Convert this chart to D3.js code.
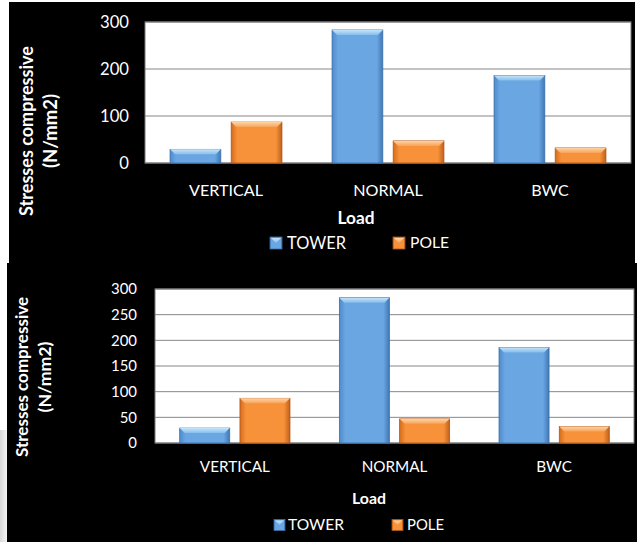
<!DOCTYPE html>
<html>
<head>
<meta charset="utf-8">
<script src="https://cdn.jsdelivr.net/npm/d3@7"></script>
<style>
  html, body { margin: 0; padding: 0; background: #ffffff; }
  svg { display: block; }
  text { font-family: Lato, "Open Sans", sans-serif; fill: #ffffff; }
</style>
</head>
<body>
<script>
// ---- data ----
const categories = ["VERTICAL", "NORMAL", "BWC"];
const seriesNames = ["TOWER", "POLE"];
const towerValues = [29, 283, 186];
const poleValues = [87, 47, 32];
const topTicks = [0, 100, 200, 300];
const bottomTicks = [0, 50, 100, 150, 200, 250, 300];
const yTitleLines = ["Stresses compressive", "(N/mm2)"];
const xTitle = "Load";

// ---- layout (pixels) ----
const W = 637, H = 542;
const charts = [
  { panel: [9, 2, 626, 261], plot: [145, 631, 22, 163], ticks: topTicks,
    tickRight: 129, tickW: 29, catY: 190, catW: 74,
    yt1: [27, 131, 170], yt2: [51, 131, 74], load: [356, 218, 37],
    leg: { y: 243, m1: 270, t1: 287, w1: 59, m2: 393, t2: 410, w2: 39, ms: 12 } },
  { panel: [7, 263, 630, 279], plot: [155, 634, 289, 443], ticks: bottomTicks,
    tickRight: 137, tickW: 26, catY: 467, catW: 70,
    yt1: [22, 377, 160], yt2: [45, 377, 71], load: [369, 498, 34],
    leg: { y: 525, m1: 274, t1: 288, w1: 56, m2: 392, t2: 407, w2: 37, ms: 11 } }
];

const svg = d3.select("body").append("svg").attr("width", W).attr("height", H);
const defs = svg.append("defs");

function hGrad(id, stops) {
  const g = defs.append("linearGradient").attr("id", id).attr("x1", 0).attr("x2", 1).attr("y1", 0).attr("y2", 0);
  stops.forEach(s => g.append("stop").attr("offset", s[0]).attr("stop-color", s[1]));
}
function vGrad(id, stops) {
  const g = defs.append("linearGradient").attr("id", id).attr("x1", 0).attr("x2", 0).attr("y1", 0).attr("y2", 1);
  stops.forEach(s => g.append("stop").attr("offset", s[0]).attr("stop-color", s[1]));
}
hGrad("blueFace", [[0, "#4f8bcb"], [0.12, "#6aa6e2"], [0.88, "#6aa6e2"], [1, "#3f78b8"]]);
vGrad("blueTop", [[0, "#c4e4fa"], [1, "#86bdec"]]);
hGrad("orFace", [[0, "#d56c1c"], [0.12, "#f7913a"], [0.88, "#f7913a"], [1, "#c0601a"]]);
vGrad("orTop", [[0, "#fdd3a6"], [1, "#f9a356"]]);
hGrad("leftFade", [[0, "#d8d8d8"], [1, "#f4f4f4"]]);

const styles = {
  TOWER: { face: "url(#blueFace)", top: "url(#blueTop)", stroke: "#3a6fa8" },
  POLE: { face: "url(#orFace)", top: "url(#orTop)", stroke: "#b0561a" }
};

// left grey fade near bottom-left
svg.append("rect").attr("x", 0).attr("y", 430).attr("width", 7).attr("height", 112).attr("fill", "url(#leftFade)");

function fitText(sel, target) {
  const base = 16;
  sel.attr("font-size", base);
  const len = sel.node().getComputedTextLength();
  const fs = len > 0 ? base * target / len : base;
  sel.attr("font-size", fs);
  return fs;
}

function drawBar(g, x, y, w, h, st) {
  const b = Math.min(5, h / 2);
  g.append("rect").attr("x", x).attr("y", y).attr("width", w).attr("height", h)
    .attr("fill", st.face).attr("stroke", st.stroke).attr("stroke-width", 0.8);
  g.append("path")
    .attr("d", `M${x},${y}L${x + w},${y}L${x + w - b},${y + b}L${x + b},${y + b}Z`)
    .attr("fill", st.top);
}

charts.forEach(c => {
  const [px, py, pw, ph] = c.panel;
  svg.append("rect").attr("x", px).attr("y", py).attr("width", pw).attr("height", ph).attr("fill", "#000");
  const [x0, x1, yTop, yZero] = c.plot;

  const x = d3.scaleBand().domain(categories).range([x0, x1]).paddingInner(0).paddingOuter(0);
  const xs = d3.scaleBand().domain(seriesNames).range([0, x.bandwidth()]).paddingInner(0.17).paddingOuter(0.41);
  const y = d3.scaleLinear().domain([0, 300]).range([yZero, yTop]);

  const g = svg.append("g");
  g.append("rect").attr("x", x0).attr("y", yTop).attr("width", x1 - x0).attr("height", yZero - yTop)
    .attr("fill", "#fff");
  // gridlines
  g.selectAll("line.grid").data(c.ticks).enter().append("line")
    .attr("x1", x0).attr("x2", x1).attr("y1", d => y(d)).attr("y2", d => y(d))
    .attr("stroke", "#878787").attr("stroke-width", 1);
  g.append("rect").attr("x", x0).attr("y", yTop).attr("width", x1 - x0).attr("height", yZero - yTop)
    .attr("fill", "none").attr("stroke", "#7a7a7a").attr("stroke-width", 1);

  // bars
  const rows = categories.map((cat, i) => ({ cat, TOWER: towerValues[i], POLE: poleValues[i] }));
  rows.forEach(r => {
    seriesNames.forEach(s => {
      const bx = x(r.cat) + xs(s);
      const by = y(r[s]);
      drawBar(g, bx, by, xs.bandwidth(), y(0) - by, styles[s]);
    });
  });

  // y tick labels
  c.ticks.forEach(t => {
    const txt = g.append("text").attr("x", c.tickRight).attr("y", y(t)).attr("dy", "0.35em")
      .attr("text-anchor", "end").text(t);
    fitText(txt, c.tickW * String(t).length / 3);
  });

  // category labels (common size, fitted on the first label)
  let catFs = null;
  categories.forEach((cat, i) => {
    const txt = g.append("text").attr("x", x(cat) + x.bandwidth() / 2).attr("y", c.catY).attr("dy", "0.35em")
      .attr("text-anchor", "middle").text(cat);
    if (catFs === null) catFs = fitText(txt, c.catW);
    else txt.attr("font-size", catFs);
  });

  // y title
  [c.yt1, c.yt2].forEach((p, i) => {
    const txt = g.append("text").attr("transform", `translate(${p[0]},${p[1]}) rotate(-90)`)
      .attr("dy", "0.35em").attr("text-anchor", "middle").attr("font-weight", "bold").text(yTitleLines[i]);
    fitText(txt, p[2]);
  });

  // x title
  const lt = g.append("text").attr("x", c.load[0]).attr("y", c.load[1]).attr("dy", "0.35em")
    .attr("text-anchor", "middle").attr("font-weight", "bold").text(xTitle);
  fitText(lt, c.load[2]);

  // legend
  const L = c.leg;
  [[L.m1, L.t1, L.w1, "TOWER"], [L.m2, L.t2, L.w2, "POLE"]].forEach(([mx, tx, tw, s]) => {
    const st = styles[s];
    const my = L.y - L.ms / 2;
    g.append("rect").attr("x", mx).attr("y", my).attr("width", L.ms).attr("height", L.ms)
      .attr("fill", st.face).attr("stroke", st.stroke).attr("stroke-width", 0.8);
    g.append("path").attr("d", `M${mx + 1},${my + 1}L${mx + L.ms - 1},${my + 1}L${mx + L.ms / 2},${my + L.ms / 2}Z`)
      .attr("fill", st.top);
    const txt = g.append("text").attr("x", tx).attr("y", L.y).attr("dy", "0.35em").text(s);
    fitText(txt, tw);
  });
});
</script>
</body>
</html>
